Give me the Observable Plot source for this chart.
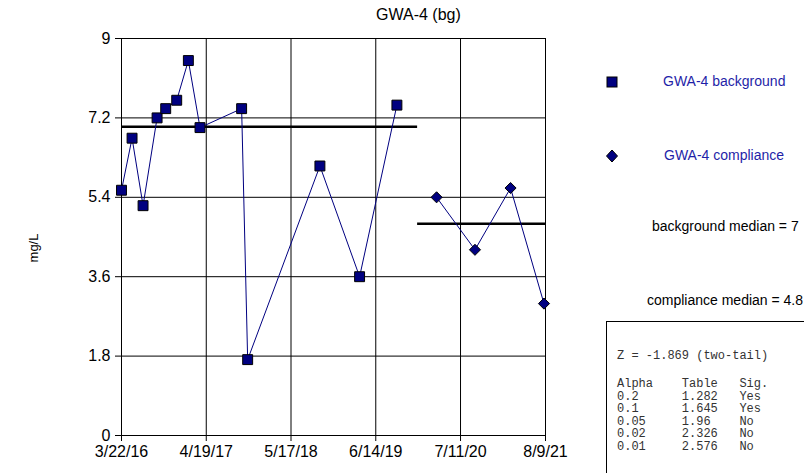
<!DOCTYPE html>
<html>
<head>
<meta charset="utf-8">
<script src="https://cdn.jsdelivr.net/npm/d3@7"></script>
<script src="https://cdn.jsdelivr.net/npm/@observablehq/plot@0.6"></script>
<style>
  body { margin: 0; background: #fff; font-family: "Liberation Sans", Arial, sans-serif; }
  #wrap { position: relative; width: 804px; height: 473px; overflow: hidden; }
  .ov { position: absolute; white-space: nowrap; }
  .leg { color: #1f1fa8; font-size: 14px; }
  .med { color: #000; font-size: 14px; }
  #stats { position: absolute; left: 606px; top: 321px; width: 210px; height: 160px; border: 1px solid #000; background: #fff;
           font-family: "Liberation Mono", "Courier New", monospace; font-size: 12px; color: #333; }
  #stats pre { margin: 0; position: absolute; left: 10px; font: inherit; line-height: 12.6px; }
  #ylab { position: absolute; left: 33px; top: 248px; font-size: 13px; color: #000; transform: translate(-50%, -50%) rotate(-90deg); white-space: nowrap; }
</style>
</head>
<body>
<div id="wrap"></div>
<script>
// ---- data ----
const bgDates = ["2016-03-22","2016-05-10","2016-06-30","2016-09-03","2016-10-13","2016-12-03","2017-01-26","2017-03-21","2017-09-30","2017-10-28","2018-09-28","2019-03-31","2019-09-20"];
const bgValues = [5.56, 6.74, 5.21, 7.2, 7.41, 7.6, 8.5, 6.98, 7.41, 1.72, 6.11, 3.6, 7.49];
const compDates = ["2020-03-22","2020-09-16","2021-02-28","2021-08-02"];
const compValues = [5.4, 4.21, 5.61, 2.99];
const medianLabels = ["background median = 7", "compliance median = 4.8"];
const medianValues = [7, 4.8];
const medianStart = ["2016-03-22", "2019-12-25"];
const medianEnd = ["2019-12-25", "2021-08-09"];
const xTickLabels = ["3/22/16","4/19/17","5/17/18","6/14/19","7/11/20","8/9/21"];
const yTicks = [0, 1.8, 3.6, 5.4, 7.2, 9];
const statsZ = "Z = -1.869 (two-tail)";
const statsAlpha = ["0.2","0.1","0.05","0.02","0.01"];
const statsTable = ["1.282","1.645","1.96","2.326","2.576"];
const statsSig = ["Yes","Yes","No","No","No"];

// ---- build ----
const parseMDY = s => { const [m,d,y] = s.split("/").map(Number); return new Date(Date.UTC(2000 + y, m - 1, d)); };
const xTicks = xTickLabels.map(parseMDY);
const fmt = d => `${d.getUTCMonth()+1}/${d.getUTCDate()}/${String(d.getUTCFullYear()).slice(2)}`;
const bg = bgDates.map((d, i) => ({date: new Date(d), value: bgValues[i]}));
const comp = compDates.map((d, i) => ({date: new Date(d), value: compValues[i]}));
const meds = medianValues.map((v, i) => ({value: v, x1: new Date(medianStart[i]), x2: new Date(medianEnd[i])}));

const navy = "#000080";
const chart = Plot.plot({
  width: 804,
  height: 473,
  marginLeft: 121,
  marginRight: 259,
  marginTop: 38,
  marginBottom: 38,
  style: {fontFamily: "Liberation Sans, Arial, sans-serif", fontSize: "16px", color: "#000", background: "#fff"},
  x: {type: "utc", domain: [xTicks[0], xTicks[xTicks.length - 1]]},
  y: {domain: [0, 9]},
  marks: [
    Plot.gridX(xTicks, {stroke: "#000", strokeOpacity: 1, strokeWidth: 1}),
    Plot.gridY(yTicks, {stroke: "#000", strokeOpacity: 1, strokeWidth: 1}),
    Plot.axisX(xTicks, {tickFormat: fmt, tickSize: 6, tickPadding: 4, label: null, stroke: "#000", fontSize: 16}),
    Plot.axisY(yTicks, {tickFormat: d => String(d), tickSize: 6, tickPadding: 5, label: null, stroke: "#000", fontSize: 16}),
    Plot.ruleY(meds, {y: "value", x1: "x1", x2: "x2", stroke: "#000", strokeWidth: 2.5}),
    Plot.line(bg, {x: "date", y: "value", stroke: navy, strokeWidth: 1}),
    Plot.line(comp, {x: "date", y: "value", stroke: navy, strokeWidth: 1}),
    Plot.dot(bg, {x: "date", y: "value", symbol: "square", r: 5.6, fill: navy, stroke: "#000", strokeWidth: 1}),
    Plot.dot(comp, {x: "date", y: "value", symbol: "diamond2", r: 5, fill: navy, stroke: "#000", strokeWidth: 1})
  ]
});
const wrap = document.getElementById("wrap");
wrap.appendChild(chart);

function addDiv(cls, text, left, top) {
  const d = document.createElement("div");
  d.className = "ov " + cls; d.textContent = text;
  d.style.left = left + "px"; d.style.top = top + "px";
  wrap.appendChild(d); return d;
}
const ylab = document.createElement("div");
ylab.id = "ylab"; ylab.textContent = "mg/L";
wrap.appendChild(ylab);
addDiv("med", "GWA-4 (bg)", 376, 6).style.fontSize = "16px";
// legend symbols
const sym = document.createElement("div");
sym.className = "ov"; sym.style.left = "600px"; sym.style.top = "70px";
sym.innerHTML = `<svg width="26" height="100"><rect x="7" y="7" width="10" height="10" fill="${navy}" stroke="#000"/><path d="M12,80 L17.5,86 L12,92 L6.5,86 Z" fill="${navy}" stroke="#000"/></svg>`;
wrap.appendChild(sym);
addDiv("leg", "GWA-4 background", 663, 73);
addDiv("leg", "GWA-4 compliance", 664, 147);
addDiv("med", medianLabels[0], 652, 218);
addDiv("med", medianLabels[1], 647, 292);

const stats = document.createElement("div");
stats.id = "stats";
const pad = (s, n) => s + " ".repeat(Math.max(0, n - s.length));
const preZ = document.createElement("pre");
preZ.textContent = statsZ; preZ.style.top = "28px";
let txt = pad("Alpha", 9) + pad("Table", 8) + "Sig.\n";
statsAlpha.forEach((a, i) => { txt += pad(a, 9) + pad(statsTable[i], 8) + statsSig[i] + "\n"; });
const pre = document.createElement("pre"); pre.textContent = txt; pre.style.top = "56px";
stats.appendChild(preZ);
stats.appendChild(pre);
wrap.appendChild(stats);
</script>
</body>
</html>
